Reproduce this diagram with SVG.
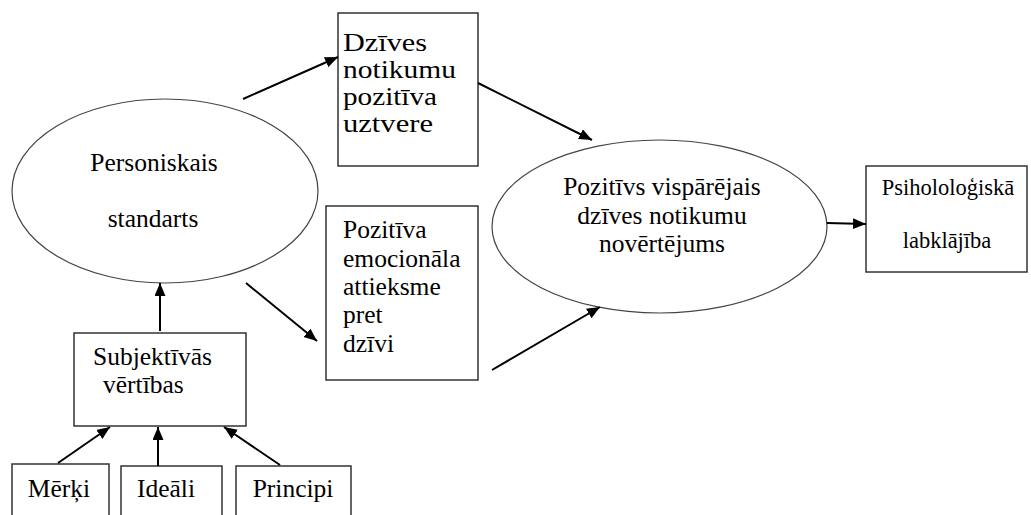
<svg xmlns="http://www.w3.org/2000/svg" width="1031" height="515" viewBox="0 0 1031 515">
<style>
text{font-family:'Liberation Serif','Times New Roman',serif;font-size:25.5px;fill:#000}
.box{fill:#fff;stroke:#333;stroke-width:1.5}
.ell{fill:#fff;stroke:#444;stroke-width:1.2}
.big{font-size:26px}
.sm{font-size:22.5px}
.c{text-anchor:middle}
.con line{stroke:#000;stroke-width:2;marker-end:url(#ah)}
</style>
<defs>
<marker id="ah" markerUnits="userSpaceOnUse" markerWidth="14" markerHeight="12" refX="13" refY="5.5" orient="auto">
<path d="M0,0 L13,5.5 L0,11 z" fill="#000"/>
</marker>
</defs>
<rect width="1031" height="515" fill="#fff"/>
<g id="personiskais">
<ellipse class="ell" cx="165" cy="191" rx="153" ry="92"/>
<text class="c" x="154" y="171">Personiskais</text>
<text class="c" x="153" y="227">standarts</text>
</g>
<g id="dzives">
<rect class="box" x="338" y="13" width="140" height="153"/>
<text class="big" x="343" y="51" textLength="84" lengthAdjust="spacingAndGlyphs">Dzīves</text>
<text class="big" x="343" y="78" textLength="113" lengthAdjust="spacingAndGlyphs">notikumu</text>
<text class="big" x="343" y="105" textLength="94" lengthAdjust="spacingAndGlyphs">pozitīva</text>
<text class="big" x="343" y="132" textLength="90" lengthAdjust="spacingAndGlyphs">uztvere</text>
</g>
<g id="emocionala">
<rect class="box" x="326" y="206" width="152" height="174"/>
<text x="343" y="238">Pozitīva</text>
<text x="343" y="267">emocionāla</text>
<text x="343" y="295">attieksme</text>
<text x="343" y="323">pret</text>
<text x="343" y="352">dzīvi</text>
</g>
<g id="novertejums">
<ellipse class="ell" cx="659.5" cy="226.5" rx="167.5" ry="86.5"/>
<text class="c" x="662" y="195">Pozitīvs vispārējais</text>
<text class="c" x="662" y="224">dzīves notikumu</text>
<text class="c" x="662" y="252">novērtējums</text>
</g>
<g id="labklajiba">
<rect class="box" x="866" y="166" width="161" height="106"/>
<text class="sm c" x="948" y="195">Psihololoģiskā</text>
<text class="sm c" x="947" y="248">labklājība</text>
</g>
<g id="subjektivas">
<rect class="box" x="74" y="333" width="172" height="93"/>
<text x="93" y="365">Subjektīvās</text>
<text x="103" y="393">vērtības</text>
</g>
<g id="merki">
<rect class="box" x="12" y="464" width="97" height="60"/>
<text class="c" x="59" y="497">Mērķi</text>
</g>
<g id="ideali">
<rect class="box" x="121" y="466" width="101" height="60"/>
<text class="c" x="166" y="497">Ideāli</text>
</g>
<g id="principi">
<rect class="box" x="236" y="466" width="115" height="60"/>
<text class="c" x="293" y="497">Principi</text>
</g>
<g id="connectors" class="con">
<line x1="243" y1="99" x2="338" y2="57"/>
<line x1="478" y1="83" x2="592" y2="140"/>
<line x1="246" y1="283" x2="317" y2="341"/>
<line x1="492" y1="370" x2="600" y2="307"/>
<line x1="827" y1="223" x2="866" y2="224"/>
<line x1="160" y1="331" x2="160" y2="283"/>
<line x1="58" y1="463" x2="110" y2="427"/>
<line x1="158" y1="466" x2="158" y2="427"/>
<line x1="280" y1="465" x2="224" y2="427"/>
</g>
</svg>
